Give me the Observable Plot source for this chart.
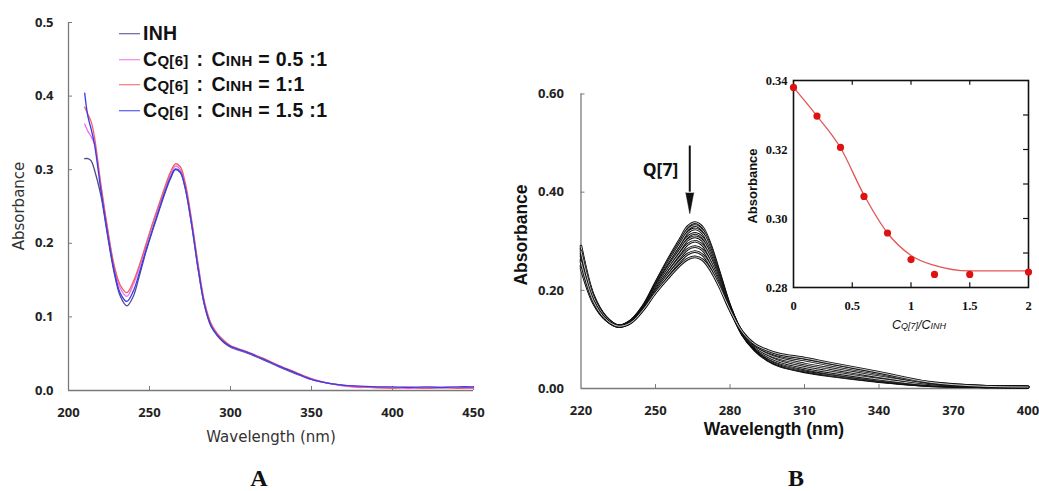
<!DOCTYPE html>
<html><head><meta charset="utf-8">
<script src="https://cdn.jsdelivr.net/npm/d3@7"></script>
<script src="https://cdn.jsdelivr.net/npm/@observablehq/plot@0.6"></script>
<style>
body{margin:0;background:#fff;}
#fig{position:relative;width:1039px;height:491px;overflow:hidden;background:#fff;font-family:"Liberation Sans",Arial,sans-serif;}
#fig svg{position:absolute;overflow:visible;}
.lbl{position:absolute;white-space:nowrap;line-height:1;}
.leg{position:absolute;white-space:nowrap;line-height:1;font-weight:bold;font-size:19.5px;letter-spacing:0.3px;color:#111;display:flex;align-items:center;transform:translateY(-50%);}
.sw{display:inline-block;width:21px;height:0;border-top:1.6px solid;margin-right:3px;}
.sub{font-size:15px;}
.col{margin:0 8px;}
</style></head><body><div id="fig"></div>
<script>
// ---------- Panel A : UV-vis spectra of INH with Q[6] ----------
const wavelengthA = [210,212,214,216,220,224,228,232,236,240,244,248,252,256,260,263,266,269,272,276,280,284,288,292,296,300,310,320,330,340,350,360,370,380,390,400,410,420,430,440,450];
const absINH   = [0.315,0.315,0.312,0.300,0.265,0.212,0.162,0.128,0.115,0.128,0.158,0.190,0.218,0.245,0.271,0.288,0.300,0.296,0.275,0.225,0.165,0.115,0.087,0.074,0.065,0.059,0.051,0.042,0.032,0.023,0.015,0.010,0.007,0.005,0.004,0.004,0.004,0.003,0.004,0.004,0.004];
const absQ6_05 = [0.362,0.352,0.345,0.335,0.277,0.220,0.170,0.139,0.128,0.144,0.169,0.198,0.226,0.252,0.277,0.294,0.305,0.300,0.279,0.229,0.169,0.118,0.090,0.076,0.067,0.060,0.052,0.043,0.033,0.024,0.015,0.010,0.006,0.004,0.005,0.004,0.003,0.004,0.005,0.004,0.003];
const absQ6_10 = [0.385,0.375,0.365,0.345,0.280,0.222,0.172,0.143,0.133,0.148,0.172,0.200,0.228,0.254,0.280,0.297,0.308,0.304,0.283,0.232,0.172,0.120,0.091,0.077,0.068,0.061,0.053,0.044,0.034,0.025,0.016,0.010,0.007,0.005,0.004,0.003,0.005,0.003,0.004,0.003,0.004];
const absQ6_15 = [0.404,0.372,0.355,0.335,0.272,0.215,0.165,0.132,0.121,0.135,0.162,0.192,0.220,0.247,0.273,0.290,0.301,0.297,0.276,0.226,0.166,0.116,0.088,0.075,0.066,0.060,0.052,0.043,0.033,0.024,0.015,0.010,0.007,0.006,0.005,0.005,0.004,0.005,0.004,0.005,0.005];
const seriesNamesA = ["INH","0.5:1","1:1","1.5:1"];
const seriesColorsA = ["#4a4a8c","#f06cf0","#f25f62","#3b3bf0"];
const xTicksA = [200,250,300,350,400,450];
const yTicksA = [0,0.1,0.2,0.3,0.4,0.5];

// ---------- Panel B : titration with Q[7] ----------
const wavelengthB = [220,225,230,235,240,245,250,255,260,263,266,269,272,276,280,285,290,295,300,310,320,340,360,380,400];
const bCurve1 = [0.262,0.182,0.143,0.127,0.138,0.168,0.215,0.262,0.305,0.330,0.338,0.328,0.295,0.232,0.168,0.110,0.078,0.058,0.046,0.034,0.026,0.014,0.006,0.004,0.003];
const bCurve2 = [0.285,0.188,0.145,0.128,0.138,0.167,0.213,0.259,0.300,0.324,0.332,0.322,0.291,0.230,0.167,0.110,0.079,0.059,0.047,0.035,0.027,0.015,0.006,0.004,0.003];
const bCurve3 = [0.270,0.180,0.142,0.127,0.137,0.166,0.211,0.255,0.295,0.318,0.325,0.316,0.285,0.227,0.166,0.111,0.080,0.060,0.048,0.036,0.028,0.015,0.007,0.004,0.003];
const bCurve4 = [0.290,0.190,0.146,0.128,0.137,0.165,0.209,0.250,0.288,0.309,0.316,0.307,0.279,0.224,0.165,0.111,0.081,0.062,0.050,0.038,0.030,0.016,0.007,0.004,0.003];
const bCurve5 = [0.250,0.176,0.141,0.126,0.136,0.164,0.207,0.247,0.283,0.303,0.309,0.301,0.273,0.221,0.165,0.112,0.082,0.063,0.052,0.040,0.031,0.017,0.008,0.004,0.003];
const bCurve6 = [0.275,0.184,0.144,0.127,0.136,0.164,0.204,0.242,0.276,0.294,0.300,0.292,0.267,0.217,0.164,0.112,0.083,0.066,0.055,0.043,0.034,0.019,0.008,0.005,0.003];
const bCurve7 = [0.245,0.174,0.140,0.126,0.135,0.162,0.201,0.236,0.268,0.284,0.289,0.282,0.259,0.213,0.162,0.113,0.085,0.070,0.061,0.050,0.041,0.024,0.010,0.005,0.003];
const bCurve8 = [0.280,0.186,0.145,0.128,0.135,0.161,0.198,0.231,0.260,0.274,0.279,0.272,0.251,0.209,0.161,0.114,0.088,0.075,0.067,0.058,0.048,0.030,0.012,0.005,0.003];
const bCurve9 = [0.258,0.178,0.141,0.127,0.134,0.160,0.195,0.225,0.252,0.264,0.268,0.262,0.243,0.205,0.160,0.115,0.090,0.078,0.070,0.062,0.052,0.033,0.013,0.005,0.003];
const curvesB = [bCurve1,bCurve2,bCurve3,bCurve4,bCurve5,bCurve6,bCurve7,bCurve8,bCurve9];
const xTicksB = [220,250,280,310,340,370,400];
const yTicksB = [0,0.2,0.4,0.6];
const arrowLabelB = ["Q[7]"];

// ---------- Inset : absorbance vs C(Q[7])/C(INH) ----------
const ratioQ7 = [0,0.2,0.4,0.6,0.8,1.0,1.2,1.5,2.0];
const absQ7   = [0.338,0.3297,0.3206,0.3064,0.2958,0.2881,0.2838,0.2838,0.2845];
const fitRatio = [0,0.2,0.4,0.6,0.8,1.0,1.2,1.5,2.0];
const fitAbs   = [0.338,0.3297,0.3205,0.3068,0.2958,0.2893,0.2864,0.2848,0.2848];
const xTicksInset = [0,0.5,1,1.5,2];
const yTicksInset = [0.28,0.30,0.32,0.34];
const yMinorInset = [0.29,0.30,0.31,0.32,0.33];

const fig = document.getElementById("fig");
function place(svg, left, top){ svg.style.left = left+"px"; svg.style.top = top+"px"; fig.appendChild(svg); }
function label(html, cx, cy, css, rot){
  const d = document.createElement("div");
  d.className = "lbl"; d.innerHTML = html;
  d.style.cssText += css;
  d.style.left = cx+"px"; d.style.top = cy+"px";
  d.style.transform = "translate(-50%,-50%)" + (rot ? ` rotate(${rot}deg)` : "");
  fig.appendChild(d);
}

// ----- Plot A -----
const seriesA = [absINH, absQ6_05, absQ6_10, absQ6_15];
const dataA = seriesA.flatMap((arr,i)=> wavelengthA.map((w,j)=>({w, a: arr[j], s: seriesNamesA[i]})));
const axisGray = "#7a7a7a";
const plotA = Plot.plot({
  width: 500, height: 460, marginLeft: 68, marginRight: 27, marginTop: 22, marginBottom: 70,
  style: {background:"transparent", overflow:"visible"},
  x: {domain:[200,450]}, y: {domain:[0,0.5]},
  color: {domain: seriesNamesA, range: seriesColorsA},
  marks: [
    Plot.ruleY([0], {x1:200, x2:450, stroke:axisGray, strokeWidth:1.3}),
    Plot.ruleX([200], {y1:0, y2:0.5, stroke:axisGray, strokeWidth:1.3}),
    Plot.ruleX(xTicksA.slice(1), {x:d=>d, y1:0, y2:0.0055, stroke:axisGray}),
    Plot.ruleY(yTicksA.slice(1), {y:d=>d, x1:200, x2:202.5, stroke:axisGray}),
    Plot.axisX({ticks:xTicksA, tickSize:0, tickPadding:17, label:null, tickFormat:d=>String(d), fontSize:13, fontWeight:"bold", fill:"#222"}),
    Plot.axisY({ticks:yTicksA, tickSize:0, tickPadding:15, label:null, tickFormat:d3.format(".1f"), fontSize:13, fontWeight:"bold", fill:"#222"}),
    Plot.line(dataA, {x:"w", y:"a", stroke:"s", z:"s", strokeWidth:1.3, curve:"catmull-rom"})
  ]
});
place(plotA, 0, 0);

// ----- Plot B -----
const marksB = curvesB.flatMap((arr)=>{
  const d = wavelengthB.map((w,j)=>({w, a: arr[j]}));
  return [
    Plot.line(d, {x:"w", y:"a", stroke:"#111", strokeWidth:2.7, curve:"catmull-rom"}),
    Plot.line(d, {x:"w", y:"a", stroke:"#fff", strokeWidth:0.8, curve:"catmull-rom"})
  ];
});
const plotB = Plot.plot({
  width: 539, height: 460, marginLeft: 80.5, marginRight: 11.5, marginTop: 93.5, marginBottom: 72,
  style: {background:"transparent", overflow:"visible"},
  x: {domain:[220,400]}, y: {domain:[0,0.6]},
  marks: [
    Plot.ruleY([0], {x1:220, x2:400, stroke:axisGray, strokeWidth:1.3}),
    Plot.ruleX([220], {y1:0, y2:0.6, stroke:axisGray, strokeWidth:1.3}),
    Plot.ruleX(xTicksB.slice(1,-1), {x:d=>d, y1:0, y2:0.008, stroke:axisGray}),
    Plot.ruleY(yTicksB.slice(1), {y:d=>d, x1:220, x2:221.6, stroke:axisGray}),
    Plot.axisX({ticks:xTicksB, tickSize:0, tickPadding:17, label:null, tickFormat:d=>String(d), fontSize:13, fontWeight:"bold", fill:"#222"}),
    Plot.axisY({ticks:yTicksB, tickSize:0, tickPadding:17, label:null, tickFormat:d3.format(".2f"), fontSize:13, fontWeight:"bold", fill:"#222"}),
    ...marksB,
    Plot.ruleX([263.8], {y1:0.40, y2:0.494, stroke:"#111", strokeWidth:2}),
    Plot.vector([263.8], {x:d=>d, y:0.399, length:21, rotate:180, anchor:"start", shape:"spike", r:4, fill:"#111", stroke:"#111", strokeWidth:0.5}),
    Plot.text(arrowLabelB, {x:252, y:0.445, text:d=>d, fontSize:17.5, fontWeight:"bold", fill:"#111"})
  ]
});
place(plotB, 500, 0);

// ----- Inset -----
const ptsI = ratioQ7.map((r,i)=>({r, a: absQ7[i]}));
const fitI = fitRatio.map((r,i)=>({r, a: fitAbs[i]}));
const serif = "'Liberation Serif', 'Times New Roman', serif";
const plotI = Plot.plot({
  width: 309, height: 290, marginLeft: 63, marginRight: 11, marginTop: 30, marginBottom: 53,
  style: {background:"transparent", overflow:"visible"},
  x: {domain:[0,2]}, y: {domain:[0.28,0.34]},
  marks: [
    Plot.frame({stroke:"#111", strokeWidth:1.6}),
    Plot.ruleX([0.5,1,1.5], {x:d=>d, y1:0.28, y2:0.2814, stroke:"#111", strokeWidth:1.2}),
    Plot.ruleX([0.5,1,1.5], {x:d=>d, y1:0.3386, y2:0.34, stroke:"#111", strokeWidth:1.2}),
    Plot.ruleY(yMinorInset, {y:d=>d, x1:1.958, x2:2, stroke:"#111", strokeWidth:1.2}),
    Plot.axisX({ticks:xTicksInset, tickSize:0, tickPadding:13.5, label:null, tickFormat:d=>String(d), fontSize:12.5, fontWeight:"bold", fill:"#111"}),
    Plot.axisY({ticks:yTicksInset, tickSize:0, tickPadding:6, label:null, tickFormat:d3.format(".2f"), fontSize:12.5, fontWeight:"bold", fill:"#111"}),
    Plot.line(fitI, {x:"r", y:"a", stroke:"#e25656", strokeWidth:1.3, curve:"monotone-x"}),
    Plot.dot(ptsI, {x:"r", y:"a", r:3.6, fill:"#dd1212", stroke:"none"})
  ]
});
plotI.querySelectorAll("text").forEach(t => { t.style.fontFamily = serif; });
place(plotI, 730, 50);

// ----- text labels -----
const dv = "font-family:'DejaVu Sans',sans-serif;font-size:15px;color:#333;";
label("Absorbance", 19, 206, dv, -90);
label("Wavelength (nm)", 271, 437, dv);
label("A", 259, 478, `font-family:${serif};font-weight:bold;font-size:24px;color:#111;`);
const bb = "font-family:'Liberation Sans',Arial,sans-serif;font-weight:bold;font-size:17.5px;color:#111;";
label("Absorbance", 522, 235, bb, -90);
label("Wavelength (nm)", 774, 430, bb);
label("B", 796, 478, `font-family:${serif};font-weight:bold;font-size:24px;color:#111;`);
label("Absorbance", 752, 186, "font-family:'Liberation Sans',Arial,sans-serif;font-weight:bold;font-size:13px;color:#111;", -90);
label("C<span style='font-size:9px'>Q[7]</span>/C<span style='font-size:9px'>INH</span>", 919, 325, "font-family:'Liberation Sans',Arial,sans-serif;font-style:italic;font-size:12.5px;color:#111;");

// ----- legend (panel A) -----
const legendRowsA = [
  "INH",
  "C<span class='sub'>Q[6]</span><span class='col'>:</span>C<span class='sub'>INH</span>&nbsp;= 0.5 :1",
  "C<span class='sub'>Q[6]</span><span class='col'>:</span>C<span class='sub'>INH</span>&nbsp;= 1:1",
  "C<span class='sub'>Q[6]</span><span class='col'>:</span>C<span class='sub'>INH</span>&nbsp;= 1.5 :1"
];
const legendY = [33.5, 59.5, 85, 110.5];
legendRowsA.forEach((html,i)=>{
  const d = document.createElement("div");
  d.className = "leg";
  d.style.left = "119px"; d.style.top = legendY[i]+"px";
  d.innerHTML = `<span class="sw" style="border-color:${seriesColorsA[i]}"></span><span style="align-self:baseline;">${html}</span>`;
  fig.appendChild(d);
});
</script></body></html>
